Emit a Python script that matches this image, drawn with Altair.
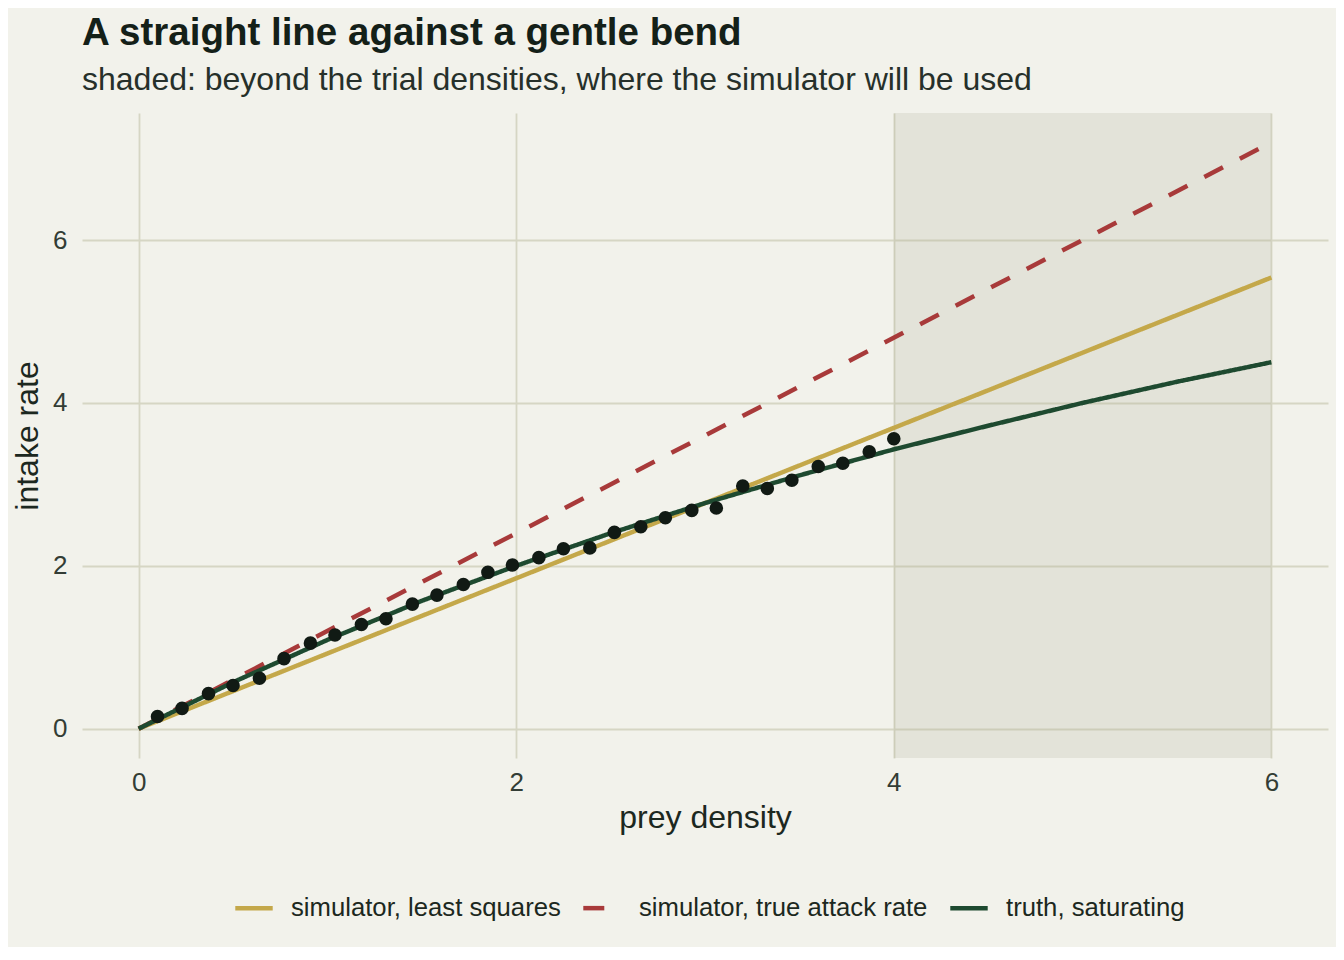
import altair as alt
import pandas as pd

DENSITY = [0.10, 0.23, 0.37, 0.50, 0.64, 0.77, 0.91, 1.04, 1.18, 1.31,
           1.45, 1.58, 1.72, 1.85, 1.98, 2.12, 2.25, 2.39, 2.52, 2.66,
           2.79, 2.93, 3.06, 3.20, 3.33, 3.46, 3.60, 3.73, 3.87, 4.00]
INTAKE = [0.15, 0.25, 0.43, 0.53, 0.62, 0.86, 1.05, 1.15, 1.28, 1.35,
          1.53, 1.64, 1.77, 1.92, 2.01, 2.10, 2.21, 2.22, 2.41, 2.48,
          2.59, 2.68, 2.71, 2.98, 2.95, 3.05, 3.22, 3.26, 3.40, 3.56]

# fitted / true curves
LS_X = [0, 6]
LS_Y = [0, 5.54]
ATTACK_X = [0, 6]
ATTACK_Y = [0, 7.2]
TRUTH_X = [0, 0.5, 1, 1.5, 2, 2.5, 3, 3.5, 4, 4.5, 5, 5.5, 6]
TRUTH_Y = [0, 0.57, 1.09, 1.57, 2.0, 2.4, 2.77, 3.11, 3.43, 3.72, 4.0, 4.26, 4.5]

SHADE_FROM = [4]
SHADE_TO = [6]

SERIES = ["simulator, least squares", "simulator, true attack rate", "truth, saturating"]
COLORS = ["#c4a84a", "#a83a3a", "#1e4a30"]
DASHES = [[1, 0], [21, 19], [1, 0]]

FONT = "Liberation Sans"
INK = "#1c2820"

lines = pd.concat([
    pd.DataFrame({"series": SERIES[0], "x": LS_X, "y": LS_Y}),
    pd.DataFrame({"series": SERIES[1], "x": ATTACK_X, "y": ATTACK_Y}),
    pd.DataFrame({"series": SERIES[2], "x": TRUTH_X, "y": TRUTH_Y}),
], ignore_index=True)
points = pd.DataFrame({"x": DENSITY, "y": INTAKE})
shade = pd.DataFrame({"x": SHADE_FROM, "x2": SHADE_TO})

xscale = alt.Scale(domain=[-0.3, 6.3], nice=False, zero=False)
yscale = alt.Scale(domain=[-0.36, 7.56], nice=False, zero=False)

xaxis = alt.Axis(values=[0, 2, 4, 6], title="prey density", labelPadding=11,
                 titlePadding=7, format="d")
yaxis = alt.Axis(values=[0, 2, 4, 6], title="intake rate", labelPadding=15,
                 titlePadding=8, format="d")

band = alt.Chart(shade).mark_rect(color="#a8a890", opacity=0.2).encode(
    x=alt.X("x:Q", scale=xscale, axis=xaxis),
    x2="x2:Q",
    y=alt.value(0),
    y2=alt.value("height"),
)

curves = alt.Chart(lines).mark_line(strokeWidth=4.5).encode(
    x=alt.X("x:Q", scale=xscale, axis=xaxis),
    y=alt.Y("y:Q", scale=yscale, axis=yaxis),
    color=alt.Color("series:N", title=None,
                    scale=alt.Scale(domain=SERIES, range=COLORS)),
    strokeDash=alt.StrokeDash("series:N", title=None,
                              scale=alt.Scale(domain=SERIES, range=DASHES)),
)

dots = alt.Chart(points).mark_circle(size=185, color="#111a14", opacity=1).encode(
    x=alt.X("x:Q", scale=xscale),
    y=alt.Y("y:Q", scale=yscale),
)

chart = alt.layer(band, curves, dots).properties(
    width=1246,
    height=645,
    autosize=alt.AutoSizeParams(type="none"),
    padding={"left": 74, "top": 105, "right": 8, "bottom": 189},
    title=alt.TitleParams(
        "A straight line against a gentle bend",
        subtitle="shaded: beyond the trial densities, where the simulator will be used",
        anchor="start",
        frame="group",
        font=FONT,
        fontSize=38.5,
        fontWeight="bold",
        color="#142018",
        subtitleFont=FONT,
        subtitleFontSize=32,
        subtitleColor="#26302a",
        subtitlePadding=12,
        offset=16,
    ),
).configure(
    background="#f2f2eb",
).configure_view(
    stroke=None,
).configure_axis(
    domain=False,
    ticks=False,
    grid=True,
    gridColor="#d6d6c4",
    gridWidth=1.8,
    labelFont=FONT,
    labelFontSize=26,
    labelColor="#333d35",
    titleFont=FONT,
    titleFontSize=32,
    titleFontWeight="normal",
    titleColor=INK,
).configure_legend(
    orient="none",
    legendX=151,
    legendY=774,
    direction="horizontal",
    symbolType="stroke",
    symbolSize=1400,
    symbolStrokeWidth=4.5,
    labelFont=FONT,
    labelFontSize=25.7,
    labelColor=INK,
    labelOffset=16,
    labelLimit=600,
    columnPadding=13,
    padding=0,
)

chart.save("out.html", embed_options={"renderer": "svg", "actions": False})
